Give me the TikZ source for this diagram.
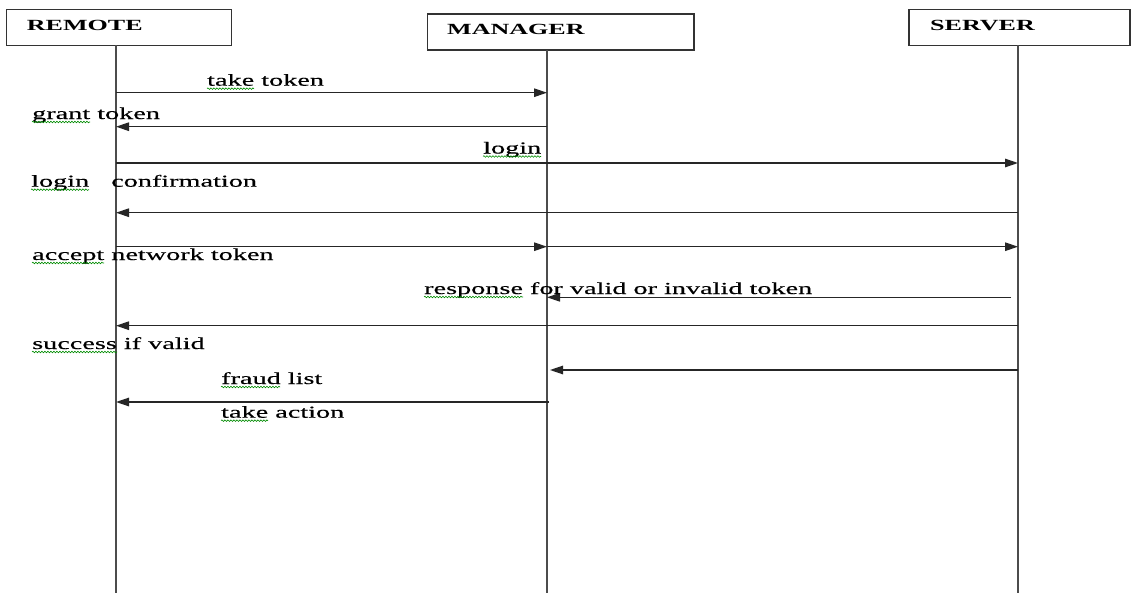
\documentclass[tikz,border=0pt]{standalone}
\usepackage{fontspec}
\setmainfont{Liberation Serif}[FakeStretch=1.68,UprightFeatures={FakeBold=0.4}]
\usetikzlibrary{arrows.meta,decorations.pathmorphing,calc}
\begin{document}
\begin{tikzpicture}[x=1pt,y=-1pt,
  box/.style={draw=black!80,line width=1.3pt,minimum height=36pt,inner sep=0pt},
  life/.style={draw=black!70,line width=1.6pt},
  msg/.style={draw=black!85,line width=1.3pt,-{Triangle[length=13pt,width=8.5pt]}},
  lbl/.style={anchor=base west,inner sep=0pt,font=\fontsize{16.8}{20}\selectfont},
  hdr/.style={anchor=base west,inner sep=0pt,font=\fontsize{15.5}{19}\selectfont\bfseries},
  sq/.style={draw=green!55!black,line width=0.6pt,decorate,decoration={snake,segment length=3pt,amplitude=0.8pt}}]
\useasboundingbox (0,0) rectangle (1132,594);
\fill[white] (0,0) rectangle (1132,594);

% participant boxes
\node[box,minimum width=225pt] (remoteBox) at (119,27.3) {};
\node[box,minimum width=266.5pt] (managerBox) at (560.75,32) {};
\node[box,minimum width=221pt] (serverBox) at (1019.5,27.3) {};
\node[hdr] (remoteT) at (26.7,30.7) {REMOTE};
\node[hdr] (managerT) at (447,34.7) {MANAGER};
\node[hdr] (serverT) at (930,30.7) {SERVER};

% lifelines
\coordinate (R) at (116,45.3);
\coordinate (M) at (547,50);
\coordinate (S) at (1018,45.3);
\coordinate (bot) at (0,593);
\draw[life] (R) -- (R |- bot);
\draw[life] (M) -- (M |- bot);
\draw[life] (S) -- (S |- bot);

% message rows
\coordinate (r1) at (0,92.7);
\coordinate (r2) at (0,126.7);
\coordinate (r3) at (0,163);
\coordinate (r4) at (0,212.7);
\coordinate (r5) at (0,246.7);
\coordinate (r6) at (0,297.3);
\coordinate (r7) at (0,325.7);
\coordinate (r8) at (0,370);
\coordinate (r9) at (0,402);

\draw[msg] (R |- r1) -- (M |- r1);
\draw[msg] (M |- r2) -- (R |- r2);
\draw[msg] (R |- r3) -- (S |- r3);
\draw[msg] (S |- r4) -- (R |- r4);
\draw[msg] (R |- r5) -- (M |- r5);
\draw[msg] (M |- r5) -- (S |- r5);
\draw[msg] ($(S |- r6)+(-7,0)$) -- (M |- r6);
\draw[msg] (S |- r7) -- (R |- r7);
\draw[msg] (S |- r8) -- ($(M |- r8)+(3,0)$);
\draw[msg] ($(M |- r9)+(2,0)$) -- (R |- r9);

% labels
\node[lbl] (t1) at (207,85.7) {take token};
\node[lbl] (t2) at (32,119) {grant token};
\node[lbl] (t3) at (483,153.5) {login};
\node[lbl] (t4) at (31,186.7) {login\hspace{22pt}confirmation};
\node[lbl] (t5) at (32,260) {accept network token};
\node[lbl] (t6) at (424,294) {response for valid or invalid token};
\node[lbl] (t7) at (32,349) {success if valid};
\node[lbl] (t8) at (221,384) {fraud list};
\node[lbl] (t9) at (221,417.7) {take action};

% spell-check squiggles
\draw[sq] ($(t1.base west)+(0,3)$) -- ++(47,0);
\draw[sq] ($(t2.base west)+(0,3)$) -- ++(58,0);
\draw[sq] ($(t3.base west)+(0,3)$) -- ++(58,0);
\draw[sq] ($(t4.base west)+(0,3)$) -- ++(58,0);
\draw[sq] ($(t5.base west)+(0,3)$) -- ++(72,0);
\draw[sq] ($(t6.base west)+(0,3)$) -- ++(99,0);
\draw[sq] ($(t7.base west)+(0,3)$) -- ++(85,0);
\draw[sq] ($(t8.base west)+(0,3)$) -- ++(59,0);
\draw[sq] ($(t9.base west)+(0,3)$) -- ++(47,0);
\end{tikzpicture}
\end{document}
